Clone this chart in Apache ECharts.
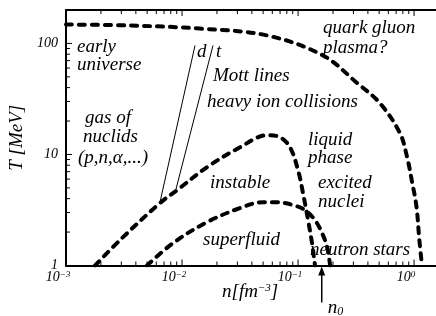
<!DOCTYPE html>
<html>
<head>
<meta charset="utf-8">
<script src="https://cdn.jsdelivr.net/npm/echarts@6/dist/echarts.min.js"></script>
<style>
html,body{margin:0;padding:0;background:#fff;}
#main{width:436px;height:316px;}
</style>
</head>
<body>
<div id="main"></div>
<script>
// axis ticks (log axes)
var xMajor = [0.001, 0.01, 0.1, 1];
var xMinor = [0.002,0.003,0.004,0.005,0.006,0.007,0.008,0.009,
              0.02,0.03,0.04,0.05,0.06,0.07,0.08,0.09,
              0.2,0.3,0.4,0.5,0.6,0.7,0.8,0.9, 2];
var yMajor = [1, 10, 100];
var yMinor = [2,3,4,5,6,7,8,9, 20,30,40,50,60,70,80,90];

// curves: [n (fm^-3), T (MeV)]
var qgpLine = [[0.001,148],[0.00356,145],[0.0143,136],[0.054,118],[0.164,78],[0.323,44],
               [0.509,28.9],[0.757,15.5],[0.871,9.45],[0.955,5.87],[1.05,3.36],[1.11,1.7],[1.17,1]];
var liquidGasLine = [[0.00178,1],[0.0031,1.8],[0.00646,3.65],[0.00906,4.77],[0.01644,7.68],
                     [0.0316,11.6],[0.0541,14.9],[0.07,14.3],[0.0853,11.6],[0.1,7.22],
                     [0.1104,4.48],[0.122,2.56],[0.132,1.59],[0.14,1]];
var superfluidLine = [[0.00499,1],[0.00835,1.59],[0.01644,2.46],[0.0316,3.29],[0.0499,3.72],
                      [0.0659,3.72],[0.0906,3.5],[0.1148,3.15],[0.14,2.56],[0.161,1.96],
                      [0.178,1.47],[0.189,1]];
var mottD = [[0.00646,3.72],[0.01294,95.9]];
var mottT = [[0.00887,4.87],[0.01849,95.9]];
var n0 = 0.16;

var X_MIN = 0.001, X_MAX = 2, Y_MIN = 1, Y_MAX = 200;
var SERIF = '"Liberation Serif", "DejaVu Serif", serif';

var chart = echarts.init(document.getElementById('main'), null, {renderer:'canvas'});

function dashed(data){
  return {
    type:'line', data:data, smooth:0.35, showSymbol:false, silent:true,
    lineStyle:{color:'#000', width:4, type:[6,7], cap:'round'}
  };
}
function thin(data){
  return {
    type:'line', data:data, showSymbol:false, silent:true,
    lineStyle:{color:'#000', width:1}
  };
}

// inward ticks on bottom+top (x) or left (y), drawn with the axis scales
function xTickSeries(values, len){
  return {
    type:'custom', silent:true, z:5,
    data:values.map(function(v){ return [v, Y_MIN]; }),
    renderItem:function(params, api){
      var b = api.coord([api.value(0), Y_MIN]);
      var t = api.coord([api.value(0), Y_MAX]);
      var st = {stroke:'#000', lineWidth:1};
      return {type:'group', children:[
        {type:'line', shape:{x1:b[0], y1:b[1], x2:b[0], y2:b[1]-len}, style:st},
        {type:'line', shape:{x1:t[0], y1:t[1], x2:t[0], y2:t[1]+len}, style:st}
      ]};
    }
  };
}
function yTickSeries(values, len){
  return {
    type:'custom', silent:true, z:5,
    data:values.map(function(v){ return [X_MIN, v]; }),
    renderItem:function(params, api){
      var l = api.coord([X_MIN, api.value(1)]);
      return {type:'line', shape:{x1:l[0], y1:l[1], x2:l[0]+len, y2:l[1]},
              style:{stroke:'#000', lineWidth:1}};
    }
  };
}

function supLabel(v){
  var e = Math.round(Math.log(v)/Math.LN10);
  return '{b|10}{s|' + (e < 0 ? '\u2212' + (-e) : e) + '}';
}

var option = {
  backgroundColor:'#fff',
  animation:false,
  grid:{left:66, top:10, width:383, height:255.5, outerBoundsMode:'none', containLabel:false},
  xAxis:[
    {
      type:'log', logBase:10, min:X_MIN, max:X_MAX, position:'bottom',
      splitLine:{show:false},
      axisLine:{show:true, lineStyle:{color:'#000', width:2}},
      axisTick:{show:false},
      axisLabel:{show:true, customValues:xMajor, margin:5, padding:[0,16,0,0],
        formatter:supLabel,
        rich:{
          b:{fontFamily:SERIF, fontStyle:'italic', fontSize:14, color:'#000'},
          s:{fontFamily:SERIF, fontStyle:'italic', fontSize:9, color:'#000', verticalAlign:'top'}
        }}
    },
    {
      type:'log', logBase:10, min:X_MIN, max:X_MAX, position:'top',
      splitLine:{show:false},
      axisLine:{show:true, lineStyle:{color:'#000', width:2}},
      axisTick:{show:false},
      axisLabel:{show:false}
    }
  ],
  yAxis:[
    {
      type:'log', logBase:10, min:Y_MIN, max:Y_MAX, position:'left',
      splitLine:{show:false},
      axisLine:{show:true, lineStyle:{color:'#000', width:2}},
      axisTick:{show:false},
      axisLabel:{show:true, customValues:yMajor, margin:8,
        fontFamily:SERIF, fontStyle:'italic', fontSize:14, color:'#000',
        formatter:function(v){ return String(Math.round(v)); }},
      name:'T [MeV]', nameLocation:'middle', nameGap:40, nameRotate:90,
      nameTextStyle:{fontFamily:SERIF, fontStyle:'italic', fontSize:19, color:'#000'}
    }
  ],
  series:[
    xTickSeries(xMajor, 6),
    xTickSeries(xMinor, 4),
    yTickSeries(yMajor, 6),
    yTickSeries(yMinor, 4),
    dashed(qgpLine),
    dashed(liquidGasLine),
    dashed(superfluidLine),
    thin(mottD),
    thin(mottT)
  ]
};
chart.setOption(option);

// region labels (pixel positions of the text boxes)
var notes = [
  ['early', 77, 47], ['universe', 77, 65],
  ['gas of', 85, 118], ['nuclids', 83, 137], ['(p,n,\u03b1,...)', 78, 158],
  ['d', 197, 52], ['t', 216, 52],
  ['Mott lines', 213, 76], ['heavy ion collisions', 207, 102],
  ['quark gluon', 323, 28], ['plasma?', 323, 48],
  ['liquid', 308, 140], ['phase', 308, 158],
  ['instable', 210, 183],
  ['excited', 318, 183], ['nuclei', 318, 202],
  ['superfluid', 203, 240],
  ['neutron stars', 310, 250]
];
var graphics = [];
for(var i=0;i<notes.length;i++){
  graphics.push({
    type:'text', x:notes[i][1], y:notes[i][2], silent:true,
    style:{text:notes[i][0], fontFamily:SERIF, fontStyle:'italic', fontSize:19, fill:'#000', verticalAlign:'middle'}
  });
}

// x axis name with superscript
graphics.push({
  type:'text', x:222, y:292, silent:true,
  style:{
    text:'{a|n[fm}{s|\u22123}{a|]}', verticalAlign:'middle',
    rich:{
      a:{fontFamily:SERIF, fontStyle:'italic', fontSize:19, fill:'#000'},
      s:{fontFamily:SERIF, fontStyle:'italic', fontSize:11, fill:'#000', verticalAlign:'top'}
    }
  }
});

// saturation density arrow n0
var p = chart.convertToPixel({xAxisIndex:0, yAxisIndex:0}, [n0, Y_MIN]);
graphics.push({
  type:'line', silent:true,
  shape:{x1:p[0], y1:p[1]+8, x2:p[0], y2:p[1]+37},
  style:{stroke:'#000', lineWidth:1.5}
});
graphics.push({
  type:'polygon', silent:true,
  shape:{points:[[p[0], p[1]+1], [p[0]-3.5, p[1]+10], [p[0]+3.5, p[1]+10]]},
  style:{fill:'#000'}
});
graphics.push({
  type:'text', x:p[0]+6, y:p[1]+42, silent:true,
  style:{
    text:'{a|n}{s|0}', verticalAlign:'middle',
    rich:{
      a:{fontFamily:SERIF, fontStyle:'italic', fontSize:19, fill:'#000'},
      s:{fontFamily:SERIF, fontStyle:'italic', fontSize:12, fill:'#000', verticalAlign:'bottom', padding:[8,0,0,0]}
    }
  }
});

chart.setOption({graphic:graphics});
</script>
</body>
</html>
